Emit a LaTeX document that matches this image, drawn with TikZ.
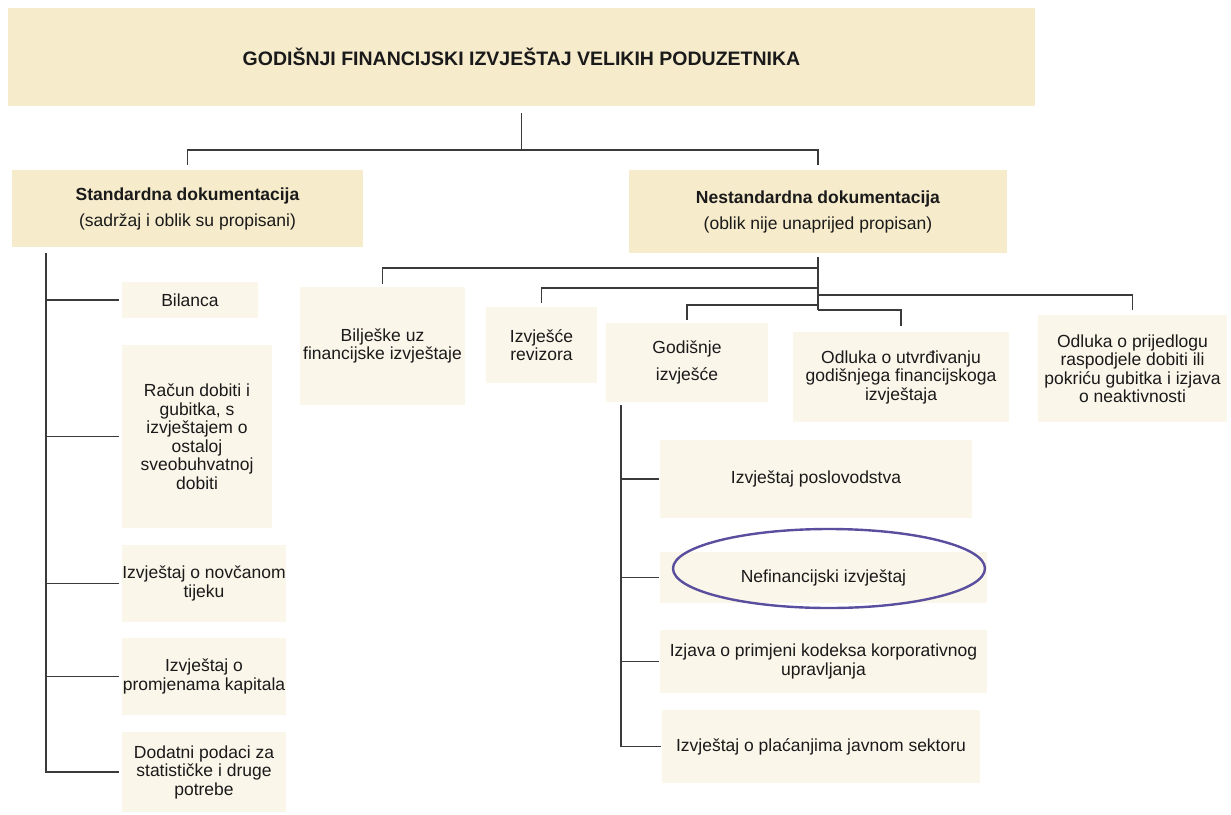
\documentclass[tikz,border=0pt]{standalone}
\usepackage{fontspec}
\setmainfont{Liberation Sans}
\definecolor{headfill}{HTML}{F6EBCB}
\definecolor{boxfill}{HTML}{FBF6EA}
\definecolor{linec}{HTML}{3A3A3A}
\definecolor{ringc}{HTML}{5A4E9E}
\definecolor{txt}{HTML}{1A1A1A}
\tikzset{
  headbox/.style={fill=headfill, draw=none, inner sep=0pt, align=center, text=txt,
    font=\fontsize{17.5}{18.5}\selectfont},
  itembox/.style={fill=boxfill, draw=none, inner sep=0pt, align=center, text=txt,
    font=\fontsize{17.5}{18.5}\selectfont},
  conn/.style={draw=linec, line width=1.8pt},
  ring/.style={draw=ringc, line width=2.4pt}
}
\begin{document}
\begin{tikzpicture}[x=1pt,y=-1pt]
\useasboundingbox (0,0) rectangle (1231,814);
% top
\node[headbox, minimum width=1027pt, minimum height=98pt, font=\fontsize{19.5}{21}\selectfont\bfseries] (top) at (521.5,57)
  {GODIŠNJI FINANCIJSKI IZVJEŠTAJ VELIKIH PODUZETNIKA};
% level 2
\node[headbox, minimum width=351pt, minimum height=77pt] (std) at (187.5,208.5)
  {\textbf{Standardna dokumentacija}\\[7.5pt](sadržaj i oblik su propisani)};
\node[headbox, minimum width=378pt, minimum height=83pt] (nstd) at (818,211.5)
  {\textbf{Nestandardna dokumentacija}\\[7.5pt](oblik nije unaprijed propisan)};
% standard children
\node[itembox, minimum width=136pt, minimum height=36pt] (bil) at (190,300) {Bilanca};
\node[itembox, minimum width=150pt, minimum height=183pt] (racun) at (197,436.5)
  {Račun dobiti i\\gubitka, s\\izvještajem o\\ostaloj\\sveobuhvatnoj\\dobiti};
\node[itembox, minimum width=164pt, minimum height=77pt] (novc) at (204,583.5)
  {Izvještaj o novčanom\\tijeku};
\node[itembox, minimum width=164pt, minimum height=77pt] (prom) at (204,676.5)
  {Izvještaj o\\promjenama kapitala};
\node[itembox, minimum width=164pt, minimum height=80pt] (dod) at (204,772)
  {Dodatni podaci za\\statističke i druge\\potrebe};
% nonstandard children
\node[itembox, minimum width=165pt, minimum height=118pt] (bilj) at (382.5,346)
  {Bilješke uz\\financijske izvještaje};
\node[itembox, minimum width=111pt, minimum height=76pt] (rev) at (541.5,345)
  {Izvješće\\revizora};
\node[itembox, minimum width=162pt, minimum height=79pt] (god) at (687,362.5)
  {Godišnje\\[8.5pt]izvješće};
\node[itembox, minimum width=216pt, minimum height=90pt] (utv) at (901,377)
  {Odluka o utvrđivanju\\godišnjega financijskoga\\izvještaja};
\node[itembox, minimum width=189pt, minimum height=107pt] (prij) at (1132.5,368.5)
  {Odluka o prijedlogu\\raspodjele dobiti ili\\pokriću gubitka i izjava\\o neaktivnosti};
% annual report children
\node[itembox, minimum width=312pt, minimum height=78pt] (posl) at (816,479)
  {Izvještaj poslovodstva};
\node[itembox, minimum width=327pt, minimum height=51pt] (nefin) at (823.5,577.5)
  {Nefinancijski izvještaj};
\node[itembox, minimum width=327pt, minimum height=63pt] (izj) at (823.5,661.5)
  {Izjava o primjeni kodeksa korporativnog\\upravljanja};
\node[itembox, minimum width=318pt, minimum height=73pt] (plac) at (821,746.5)
  {Izvještaj o plaćanjima javnom sektoru};
\draw[ring] (829,568.5) ellipse [x radius=156, y radius=39.5];
% connectors: top level
\coordinate (j1) at (521.5,150);
\draw[conn, shorten <=7pt] (top.south) -- (j1);
\draw[conn, shorten >=5pt] (j1) -| (std.north);
\draw[conn, shorten >=5pt] (j1) -| (nstd.north);
% standard spine
\coordinate (sL) at (46,253);
\draw[conn, shorten >=3pt] (sL) |- (dod.west);
\foreach \n in {bil,racun,novc,prom}{
  \draw[conn, shorten >=3pt] (sL |- \n.west) -- (\n.west);
}
% nonstandard trunk
\coordinate (nT) at (818,257);
\coordinate (nB) at (818,310);
\coordinate (n1) at (818,268);
\coordinate (n2) at (818,288);
\coordinate (n3) at (818,295);
\coordinate (n4) at (818,305);
\draw[conn] (nT) -- (nB);
\draw[conn, shorten >=3pt] (n1) -| (bilj.north);
\draw[conn, shorten >=4pt] (n2) -| (rev.north);
\draw[conn, shorten >=5pt] (n3) -| (prij.north);
\draw[conn, shorten >=3pt] (n4) -| (god.north);
\draw[conn, shorten >=6pt] (nB) -| (utv.north);
% annual report spine
\coordinate (gT) at (621,405);
\draw[conn, shorten >=1pt] (gT) |- (plac.west);
\foreach \n in {posl,nefin,izj}{
  \draw[conn, shorten >=1pt] (gT |- \n.west) -- (\n.west);
}
\end{tikzpicture}
\end{document}
